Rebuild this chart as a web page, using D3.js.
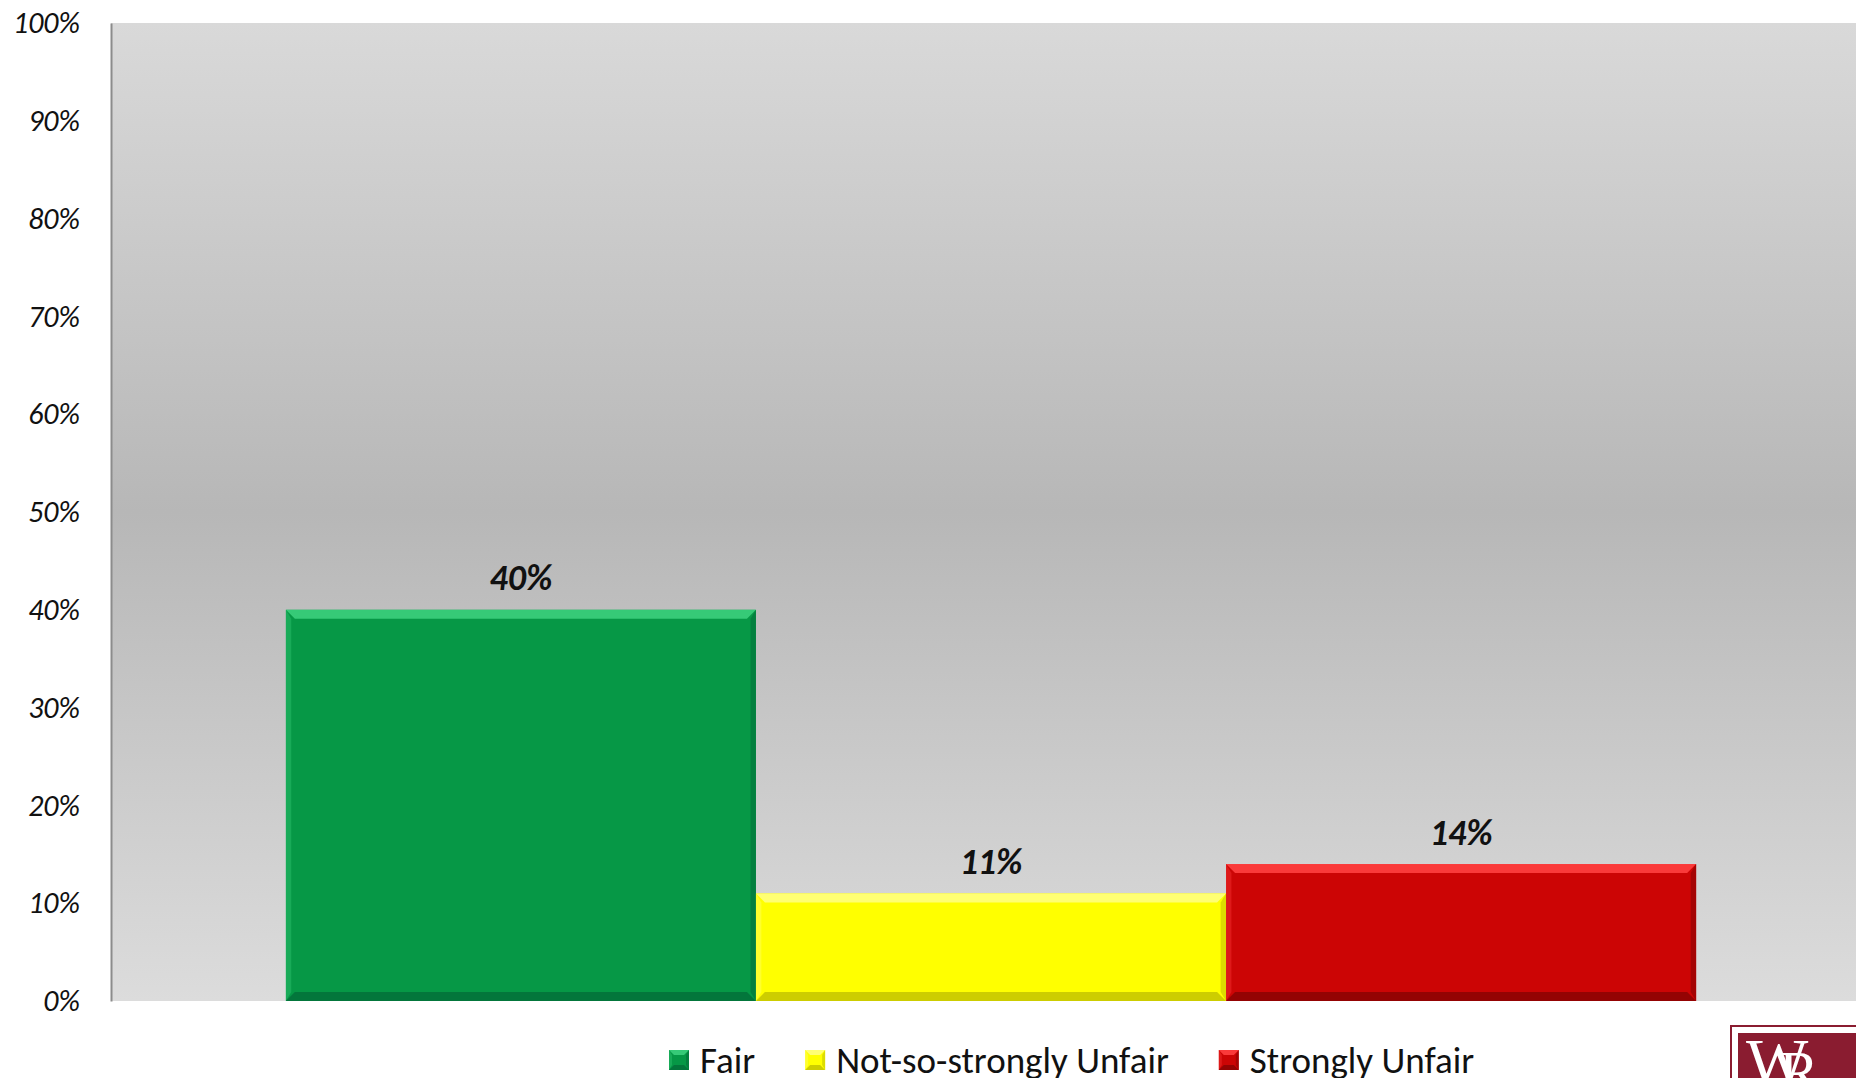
<!DOCTYPE html>
<html>
<head>
<meta charset="utf-8">
<script src="https://cdn.jsdelivr.net/npm/d3@7"></script>
<style>
  body { margin: 0; background: #fff; }
  svg { display: block; }
  .tick text { font-family: Carlito, Calibri, Lato, sans-serif; font-style: italic; }
</style>
</head>
<body>
<svg id="svg"></svg>
<script>
var categories = ["Fair", "Not-so-strongly Unfair", "Strongly Unfair"];
var values = [40, 11, 14];
var tickValues = [0, 10, 20, 30, 40, 50, 60, 70, 80, 90, 100];
var colors = {
  "Fair": { base: "#069846", light: "#3ccf7c", dark: "#04703a" },
  "Not-so-strongly Unfair": { base: "#ffff00", light: "#ffff80", dark: "#c4c400" },
  "Strongly Unfair": { base: "#cc0505", light: "#ff4040", dark: "#8a0303" }
};

var W = 1856, H = 1078;
var margin = { top: 23, left: 111, bottom: 77 };
var plotRight = 1871;

var svg = d3.select("#svg").attr("width", W).attr("height", H);

var defs = svg.append("defs");
var grad = defs.append("linearGradient").attr("id", "bg")
  .attr("x1", 0).attr("y1", 0).attr("x2", 0).attr("y2", 1);
grad.append("stop").attr("offset", 0).attr("stop-color", "#d9d9d9");
grad.append("stop").attr("offset", 0.5).attr("stop-color", "#b7b7b7");
grad.append("stop").attr("offset", 1).attr("stop-color", "#dcdcdc");

var x = d3.scaleBand()
  .domain(categories)
  .range([margin.left, plotRight])
  .paddingInner(0)
  .paddingOuter(0.372);

var y = d3.scaleLinear()
  .domain([0, 100])
  .range([H - margin.bottom, margin.top]);

// plot background
svg.append("rect")
  .attr("x", margin.left).attr("y", y(100))
  .attr("width", W - margin.left).attr("height", y(0) - y(100))
  .attr("fill", "url(#bg)");

function bevel(g, x0, y0, w, h, b, c) {
  g.append("rect").attr("x", x0).attr("y", y0).attr("width", w).attr("height", h)
    .attr("fill", c.base);
  var pts = function (a) { return a.map(function (p) { return p.join(","); }).join(" "); };
  g.append("polygon").attr("fill", c.light).attr("opacity", 0.9)
    .attr("points", pts([[x0, y0], [x0 + w, y0], [x0 + w - b, y0 + b], [x0 + b, y0 + b]]));
  g.append("polygon").attr("fill", c.dark).attr("opacity", 0.85)
    .attr("points", pts([[x0, y0 + h], [x0 + w, y0 + h], [x0 + w - b, y0 + h - b], [x0 + b, y0 + h - b]]));
  g.append("polygon").attr("fill", c.dark).attr("opacity", 0.6)
    .attr("points", pts([[x0 + w, y0], [x0 + w, y0 + h], [x0 + w - b * 0.6, y0 + h - b], [x0 + w - b * 0.6, y0 + b]]));
  g.append("polygon").attr("fill", c.light).attr("opacity", 0.35)
    .attr("points", pts([[x0, y0], [x0, y0 + h], [x0 + b * 0.6, y0 + h - b], [x0 + b * 0.6, y0 + b]]));
}

var bars = svg.append("g");
categories.forEach(function (c, i) {
  var g = bars.append("g");
  bevel(g, x(c), y(values[i]), x.bandwidth(), y(0) - y(values[i]), 9, colors[c]);
});

// value labels
svg.append("g").selectAll("text").data(categories).enter()
  .append("text")
  .attr("x", function (d) { return x(d) + x.bandwidth() / 2; })
  .attr("y", function (d, i) { return y(values[i]) - 32; })
  .attr("dy", "0.35em")
  .attr("text-anchor", "middle")
  .style("font-family", "Carlito, Calibri, Lato, sans-serif")
  .style("font-size", "36px")
  .style("font-weight", "bold")
  .style("font-style", "italic")
  .attr("fill", "#111")
  .text(function (d, i) { return values[i] + "%"; });

// y axis
var yAxis = svg.append("g")
  .attr("transform", "translate(" + margin.left + ",0)")
  .call(d3.axisLeft(y).tickValues(tickValues).tickSize(0).tickPadding(31)
    .tickFormat(function (d) { return d + "%"; }));
yAxis.select(".domain").attr("stroke", "#8c8c8c").attr("stroke-width", 2);
yAxis.selectAll(".tick text").attr("fill", "#111").style("font-size", "30px");

// legend
var legend = svg.append("g").attr("transform", "translate(669,1060)");
var lx = 0;
categories.forEach(function (c) {
  var item = legend.append("g").attr("transform", "translate(" + lx + ",0)");
  bevel(item, 0, -10, 20, 20, 5, colors[c]);
  var t = item.append("text")
    .attr("x", 31).attr("y", 0).attr("dy", "0.35em")
    .style("font-family", "Carlito, Calibri, Lato, sans-serif")
    .style("font-size", "37px")
    .attr("fill", "#111")
    .text(c);
  lx += 31 + t.node().getComputedTextLength() + 50;
});

// logo in the corner
var logo = svg.append("g");
logo.append("rect").attr("x", 1731).attr("y", 1026).attr("width", 140).attr("height", 70)
  .attr("fill", "#fff").attr("stroke", "#8a1c30").attr("stroke-width", 2);
logo.append("rect").attr("x", 1738).attr("y", 1033).attr("width", 130).attr("height", 60)
  .attr("fill", "#8a1c30");
logo.append("text").attr("x", 1746).attr("y", 1084)
  .style("font-family", "'Liberation Serif', 'DejaVu Serif', serif").style("font-size", "66px")
  .attr("fill", "#fff").text("W");
logo.append("text").attr("x", 1779).attr("y", 1092)
  .style("font-family", "'Liberation Serif', 'DejaVu Serif', serif").style("font-size", "60px")
  .attr("fill", "#fff").text("R");
</script>
</body>
</html>
